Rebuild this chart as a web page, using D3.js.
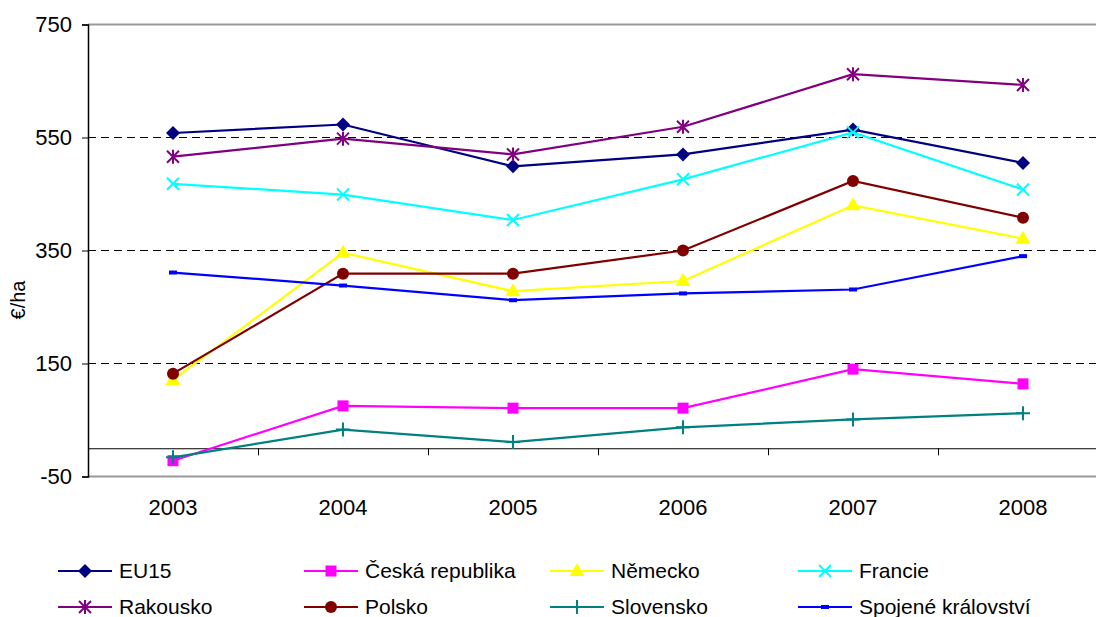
<!DOCTYPE html>
<html>
<head>
    <title>€/ha 2003-2008</title>
    <script src="https://d3js.org/d3.v7.min.js"></script>
    <style>
        body { margin: 0; background: #fff; }
        text { font-family: "Liberation Sans", Arial, sans-serif; }
    </style>
</head>
<body>
<div id="chart"></div>
<script>
const years = ["2003", "2004", "2005", "2006", "2007", "2008"];
const yTicks = [-50, 150, 350, 550, 750];

const eu15      = [558, 573, 499, 520, 564, 505];
const cesko     = [-22, 75, 71, 71, 140, 114];
const nemecko   = [121, 346, 278, 296, 430, 371];
const francie   = [468, 449, 404, 476, 559, 458];
const rakousko  = [516, 548, 520, 569, 662, 643];
const polsko    = [132, 309, 309, 350, 473, 408];
const slovensko = [-16, 33, 11, 37, 51, 62];
const britanie  = [311, 288, 262, 274, 281, 340];

const seriesNames = ["EU15", "Česká republika", "Německo", "Francie",
    "Rakousko", "Polsko", "Slovensko", "Spojené království"];
const seriesValues = [eu15, cesko, nemecko, francie, rakousko, polsko, slovensko, britanie];
const seriesColors = ["#000080", "#FF00FF", "#FFFF00", "#00FFFF",
    "#800080", "#800000", "#008080", "#0000FF"];
const seriesMarkers = ["diamond", "square", "triangle", "x", "asterisk", "circle", "plus", "dash"];

const W = 1096, H = 617;
const plotL = 88, plotR = 1108, plotT = 24.5, plotB = 476.5;

const svg = d3.select("#chart").append("svg")
    .attr("width", W).attr("height", H);

const x = d3.scaleBand().domain(years).range([plotL, plotR]).padding(0);
const cx = d => x(d) + x.bandwidth() / 2;
const y = d3.scaleLinear().domain([-50, 750]).range([plotB, plotT]);

// plot border (top / bottom gray)
svg.append("line").attr("x1", plotL).attr("x2", W).attr("y1", plotT).attr("y2", plotT)
    .attr("stroke", "#999").attr("stroke-width", 2);
svg.append("line").attr("x1", plotL).attr("x2", W).attr("y1", plotB).attr("y2", plotB)
    .attr("stroke", "#999").attr("stroke-width", 2);

// dashed gridlines
svg.selectAll(".grid").data([150, 350, 550]).enter().append("line")
    .attr("x1", plotL).attr("x2", W)
    .attr("y1", d => y(d)).attr("y2", d => y(d))
    .attr("stroke", "#000").attr("stroke-width", 1)
    .attr("stroke-dasharray", "8,5");

// y axis
const yAxis = svg.append("g")
    .attr("transform", `translate(${plotL},0)`)
    .call(d3.axisLeft(y).tickValues(yTicks).tickSize(6).tickPadding(10).tickFormat(d => String(d)));
yAxis.select(".domain").attr("stroke", "#000").attr("stroke-width", 1.5);
yAxis.selectAll("text").attr("font-size", 22).attr("fill", "#000")
    .style("font-family", "Liberation Sans, Arial, sans-serif");

// x axis at zero with ticks at band boundaries
const xb = d3.scaleLinear().domain([0, years.length]).range([plotL, plotR]);
const xAxis = svg.append("g")
    .attr("transform", `translate(0,${y(0)})`)
    .call(d3.axisBottom(xb).ticks(years.length).tickSize(7).tickFormat(""));
xAxis.select(".domain").attr("stroke", "#000");

// category labels
svg.selectAll(".xl").data(years).enter().append("text")
    .attr("x", d => cx(d)).attr("y", 515)
    .attr("text-anchor", "middle").attr("font-size", 22)
    .text(d => d);

// y title
svg.append("text")
    .attr("transform", "translate(25,300) rotate(-90)")
    .attr("text-anchor", "middle").attr("font-size", 20)
    .text("€/ha");

function drawMarker(g, type, color) {
    if (type === "diamond") {
        g.append("path").attr("d", "M0,-7L7,0L0,7L-7,0Z").attr("fill", color);
    } else if (type === "square") {
        g.append("rect").attr("x", -5.5).attr("y", -5.5).attr("width", 11).attr("height", 11).attr("fill", color);
    } else if (type === "triangle") {
        g.append("path").attr("d", "M0,-8L7.5,5L-7.5,5Z").attr("fill", color);
    } else if (type === "circle") {
        g.append("circle").attr("r", 6).attr("fill", color);
    } else if (type === "dash") {
        g.append("rect").attr("x", -4).attr("y", -2).attr("width", 8).attr("height", 4).attr("fill", color);
    } else {
        const s = 6;
        const p = [];
        if (type === "x" || type === "asterisk") p.push(`M${-s},${-s}L${s},${s}M${-s},${s}L${s},${-s}`);
        if (type === "asterisk") p.push(`M0,${-s - 1}L0,${s + 1}`);
        if (type === "plus") p.push(`M${-s - 1},0L${s + 1},0M0,${-s - 1}L0,${s + 1}`);
        g.append("path").attr("d", p.join("")).attr("stroke", color)
            .attr("stroke-width", 2).attr("fill", "none");
    }
}

const line = d3.line().x((d, i) => cx(years[i])).y(d => y(d));

seriesValues.forEach((vals, si) => {
    const color = seriesColors[si];
    svg.append("path").datum(vals)
        .attr("d", line).attr("fill", "none")
        .attr("stroke", color).attr("stroke-width", 2.2);
    vals.forEach((v, i) => {
        const g = svg.append("g").attr("transform", `translate(${cx(years[i])},${y(v)})`);
        drawMarker(g, seriesMarkers[si], color);
    });
});

// legend
const legX = [58, 304, 550, 798];
const legY = [571, 607];
seriesNames.forEach((name, i) => {
    const lx = legX[i % 4], ly = legY[Math.floor(i / 4)];
    const g = svg.append("g").attr("transform", `translate(${lx},${ly})`);
    g.append("line").attr("x1", 0).attr("x2", 54).attr("y1", 0).attr("y2", 0)
        .attr("stroke", seriesColors[i]).attr("stroke-width", 2);
    const m = g.append("g").attr("transform", "translate(27,0)");
    drawMarker(m, seriesMarkers[i], seriesColors[i]);
    g.append("text").attr("x", 61).attr("y", 0).attr("dy", "0.35em")
        .attr("font-size", 21).text(name);
});
</script>
</body>
</html>
